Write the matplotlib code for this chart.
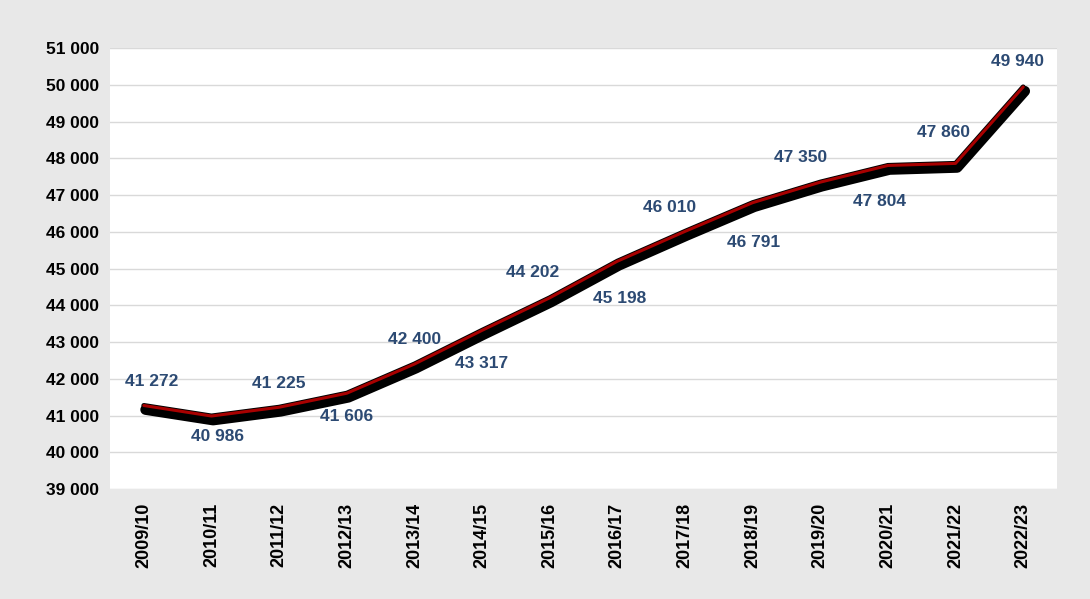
import matplotlib
matplotlib.use("Agg")
import matplotlib.pyplot as plt
import matplotlib.patheffects as pe
from matplotlib.ticker import FuncFormatter

# school years and values
years = ["2009/10", "2010/11", "2011/12", "2012/13", "2013/14", "2014/15", "2015/16",
         "2016/17", "2017/18", "2018/19", "2019/20", "2020/21", "2021/22", "2022/23"]
values = [41272, 40986, 41225, 41606, 42400, 43317, 44202,
          45198, 46010, 46791, 47350, 47804, 47860, 49940]

# label offsets in points (dx, dy)
label_offsets = [(6, 17), (4, -15), (0, 17), (0, -17), (0, 18), (0, -24), (-12, 18),
                 (2, -27), (-11, 17), (1, -29), (-14, 18), (-6, -26), (-9, 22), (-4, 18)]

fmt = lambda v, p=None: f"{int(v):,}".replace(",", " ")

plt.rcParams['font.family'] = ['Liberation Sans', 'DejaVu Sans']

fig = plt.figure(figsize=(10.9, 5.99), dpi=100)
fig.patch.set_facecolor("#e8e8e8")
ax = fig.add_axes([110 / 1090, 1 - 489 / 599, 947 / 1090, 441 / 599])
ax.set_facecolor("white")

x = list(range(len(years)))
ax.plot(x, values, color="#a80000", lw=2.2, solid_capstyle="round", solid_joinstyle="round",
        zorder=3,
        path_effects=[pe.Stroke(offset=(1.2, -3), linewidth=7.5, foreground="black"),
                      pe.Stroke(linewidth=3.6, foreground="black"),
                      pe.Normal()])

for i, (v, off) in enumerate(zip(values, label_offsets)):
    ax.annotate(fmt(v), (i, v), xytext=off, textcoords="offset points",
                ha="center", va="center", fontsize=12.5, fontweight="bold",
                color="#2c4a73", zorder=4)

ax.set_xlim(-0.5, len(years) - 0.5)
ax.set_ylim(39000, 51000)
ax.set_yticks(range(39000, 51001, 1000))
ax.yaxis.set_major_formatter(FuncFormatter(fmt))
ax.set_xticks(x)
ax.set_xticklabels(years, rotation=90)
ax.grid(axis="y", color="#d9d9d9", lw=1)
ax.set_axisbelow(True)
for s in ax.spines.values():
    s.set_visible(False)
ax.tick_params(axis="y", length=0, labelsize=12.5, pad=8)
ax.tick_params(axis="x", length=0, labelsize=13, pad=10)
for t in ax.get_xticklabels() + ax.get_yticklabels():
    t.set_fontweight("bold")

fig.savefig("out.png", dpi=100, facecolor=fig.get_facecolor())
